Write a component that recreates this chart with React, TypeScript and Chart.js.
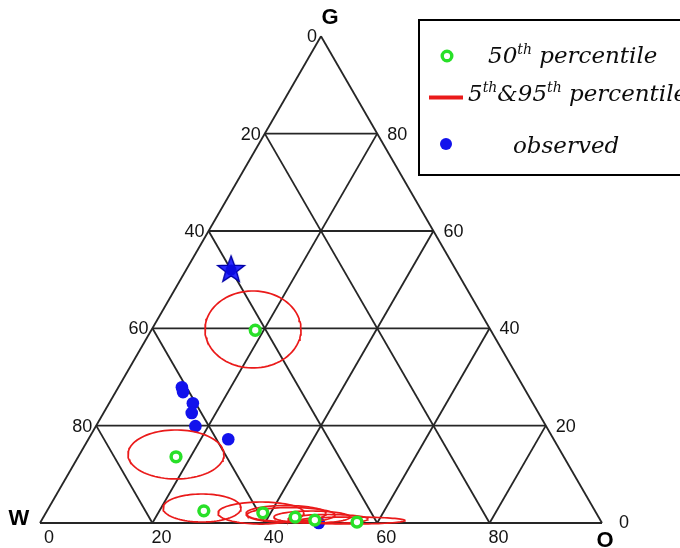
import React, { useEffect, useRef } from "react";
import { Chart, registerables } from "chart.js";

Chart.register(...registerables);

// ---------- data (ternary percentages; W = 100 - G - O) ----------
const TICKS = [0, 20, 40, 60, 80];
const GRID_STEPS = [20, 40, 60, 80];

// 50th percentile (median) points
const medianG = [39.6, 13.6, 2.5, 2.1, 1.2, 0.6, 0.2];
const medianO = [18.5, 17.4, 27.9, 38.6, 44.8, 48.6, 56.3];

// observed points
const observedG = [27.9, 26.9, 24.6, 22.6, 19.9, 17.2, 0.0];
const observedO = [11.3, 12.0, 14.9, 15.7, 17.7, 24.9, 49.6];

// observed (star marker)
const starG = [52.2];
const starO = [7.9];

// 5th & 95th percentile ellipses: centre (G, O) and semi-axes (percent units)
const bandG = [39.76, 14.08, 3.08, 2.05, 1.95, 1.64, 1.23, 0.82, 0.51];
const bandO = [18.02, 17.16, 27.29, 38.3, 42.8, 43.84, 47.78, 50.84, 55.26];
const bandRx = [8.54, 8.54, 6.94, 7.65, 7.12, 7.83, 6.76, 7.12, 9.43];
const bandRy = [6.85, 4.36, 2.49, 1.96, 1.42, 1.33, 1.07, 0.8, 0.62];

// ---------- layout constants ----------
const CW = 680;
const CH = 548;
const UNIT = 5.62; // px per percent
const ORIGIN_X = 40;
const BASE_Y = 523;
const S3 = Math.sqrt(3) / 2;

const GREEN = "#28e028";
const RED = "#ea1a1a";
const BLUE = "#1212ec";
const LINE = "#262626";

function tern(G: number, O: number) {
  return { x: O + G / 2, y: G * S3 };
}

function makeStar(): HTMLCanvasElement {
  const c = document.createElement("canvas");
  c.width = 34;
  c.height = 34;
  const ctx = c.getContext("2d")!;
  const cx = 17, cy = 18, R = 14, r = 5.8;
  ctx.beginPath();
  for (let i = 0; i < 10; i++) {
    const a = -Math.PI / 2 + (i * Math.PI) / 5;
    const rad = i % 2 === 0 ? R : r;
    const px = cx + rad * Math.cos(a);
    const py = cy + rad * Math.sin(a);
    if (i === 0) ctx.moveTo(px, py);
    else ctx.lineTo(px, py);
  }
  ctx.closePath();
  ctx.fillStyle = "#2a2aff";
  ctx.fill();
  ctx.lineWidth = 1.4;
  ctx.strokeStyle = "#0000a8";
  ctx.stroke();
  ctx.beginPath();
  ctx.arc(cx, cy, 5.5, 0, Math.PI * 2);
  ctx.fillStyle = "#0a0ae0";
  ctx.fill();
  return c;
}

const labelsPlugin = {
  id: "ternaryLabels",
  afterDraw(chart: any) {
    const ctx: CanvasRenderingContext2D = chart.ctx;
    const xs = chart.scales.x;
    const ys = chart.scales.y;
    const P = (G: number, O: number) => {
      const t = tern(G, O);
      return { x: xs.getPixelForValue(t.x), y: ys.getPixelForValue(t.y) };
    };
    ctx.save();
    ctx.fillStyle = "#141414";
    ctx.font = '18px "Liberation Sans", Arial, sans-serif';
    ctx.textBaseline = "middle";
    // left edge: W %
    ctx.textAlign = "right";
    TICKS.forEach((k) => {
      const p = P(100 - k, 0);
      ctx.fillText(String(k), p.x - 4, p.y + 1);
    });
    // right edge: G %
    ctx.textAlign = "left";
    TICKS.forEach((k) => {
      const p = P(k, 100 - k);
      if (k === 0) ctx.fillText(String(k), p.x + 17, p.y);
      else ctx.fillText(String(k), p.x + 10, p.y + 1);
    });
    // bottom edge: O %
    ctx.textAlign = "center";
    TICKS.forEach((k) => {
      const p = P(0, k);
      ctx.fillText(String(k), p.x + 9, p.y + 15);
    });
    // corner names
    ctx.font = 'bold 22px "Liberation Sans", Arial, sans-serif';
    ctx.fillStyle = "#000";
    const g = P(100, 0);
    ctx.fillText("G", g.x + 9, g.y - 18);
    const w = P(0, 0);
    ctx.fillText("W", w.x - 21, w.y - 4);
    const o = P(0, 100);
    ctx.fillText("O", o.x + 3, o.y + 18);

    // legend box
    ctx.fillStyle = "#ffffff";
    ctx.fillRect(419, 20, 300, 155);
    ctx.lineWidth = 2;
    ctx.strokeStyle = "#000";
    ctx.strokeRect(419, 20, 300, 155);
    // markers
    ctx.beginPath();
    ctx.arc(447, 56, 4.8, 0, Math.PI * 2);
    ctx.lineWidth = 3.4;
    ctx.strokeStyle = GREEN;
    ctx.stroke();
    ctx.beginPath();
    ctx.moveTo(429, 97.5);
    ctx.lineTo(463, 97.5);
    ctx.lineWidth = 4;
    ctx.strokeStyle = RED;
    ctx.stroke();
    ctx.beginPath();
    ctx.arc(446, 144, 6, 0, Math.PI * 2);
    ctx.fillStyle = BLUE;
    ctx.fill();

    // legend text with superscripts
    const big = 'italic 23px "DejaVu Serif", serif';
    const small = 'italic 14px "DejaVu Serif", serif';
    ctx.fillStyle = "#0c0c0c";
    ctx.textAlign = "left";
    ctx.textBaseline = "alphabetic";
    const drawRuns = (x: number, y: number, runs: [string, boolean][]) => {
      let cx = x;
      runs.forEach(([txt, sup]) => {
        ctx.font = sup ? small : big;
        ctx.fillText(txt, cx, sup ? y - 9 : y);
        cx += ctx.measureText(txt).width;
      });
    };
    drawRuns(488, 63, [["50", false], ["th", true], [" percentile", false]]);
    drawRuns(468, 101, [["5", false], ["th", true], ["&95", false], ["th", true], [" percentile", false]]);
    drawRuns(513, 153, [["observed", false]]);
    ctx.restore();
  },
};

export default function App() {
  const ref = useRef<HTMLCanvasElement | null>(null);

  useEffect(() => {
    if (!ref.current) return;
    const datasets: any[] = [];

    const seg = (a: { x: number; y: number }, b: { x: number; y: number }) =>
      datasets.push({
        type: "scatter",
        data: [a, b],
        showLine: true,
        borderColor: LINE,
        borderWidth: 1.8,
        pointRadius: 0,
        order: 10,
      });

    // outer triangle
    seg(tern(0, 0), tern(0, 100));
    seg(tern(0, 100), tern(100, 0));
    seg(tern(100, 0), tern(0, 0));
    // grid
    GRID_STEPS.forEach((k) => {
      seg(tern(k, 0), tern(k, 100 - k)); // constant G
      seg(tern(0, k), tern(100 - k, k)); // constant O
      seg(tern(0, 100 - k), tern(100 - k, 0)); // constant W
    });

    // observed
    datasets.push({
      type: "scatter",
      label: "observed",
      data: observedG.map((g, i) => tern(g, observedO[i])),
      pointRadius: 6.3,
      pointBackgroundColor: BLUE,
      pointBorderWidth: 0,
      order: 8,
    });

    // ellipses
    bandG.forEach((g, i) => {
      const c = tern(g, bandO[i]);
      const pts = [] as { x: number; y: number }[];
      const N = 90;
      for (let j = 0; j <= N; j++) {
        const t = (j / N) * Math.PI * 2;
        pts.push({ x: c.x + bandRx[i] * Math.cos(t), y: c.y + bandRy[i] * Math.sin(t) });
      }
      datasets.push({
        type: "scatter",
        label: "5th&95th percentile",
        data: pts,
        showLine: true,
        borderColor: RED,
        borderWidth: 1.7,
        pointRadius: 0,
        tension: 0,
        order: 6,
      });
    });

    // medians
    datasets.push({
      type: "scatter",
      label: "50th percentile",
      data: medianG.map((g, i) => tern(g, medianO[i])),
      pointRadius: 4.9,
      pointBackgroundColor: "#ffffff",
      pointBorderColor: GREEN,
      pointBorderWidth: 3.5,
      order: 4,
    });

    // star
    datasets.push({
      type: "scatter",
      label: "observed (star)",
      data: starG.map((g, i) => tern(g, starO[i])),
      pointStyle: makeStar(),
      pointRadius: 14,
      order: 2,
    });

    const chart = new Chart(ref.current, {
      type: "scatter",
      data: { datasets },
      options: {
        responsive: false,
        animation: false,
        devicePixelRatio: 1,
        events: [],
        layout: { padding: 0, autoPadding: false },
        plugins: { legend: { display: false }, tooltip: { enabled: false } },
        scales: {
          x: { type: "linear", display: false, min: -ORIGIN_X / UNIT, max: (CW - ORIGIN_X) / UNIT },
          y: { type: "linear", display: false, min: -(CH - BASE_Y) / UNIT, max: BASE_Y / UNIT },
        },
      },
      plugins: [labelsPlugin],
    } as any);
    return () => chart.destroy();
  }, []);

  return (
    <div style={{ position: "absolute", left: 0, top: 0, width: CW, height: CH, overflow: "hidden", background: "#fff" }}>
      <canvas ref={ref} width={CW} height={CH} style={{ display: "block", width: CW, height: CH }} />
    </div>
  );
}
